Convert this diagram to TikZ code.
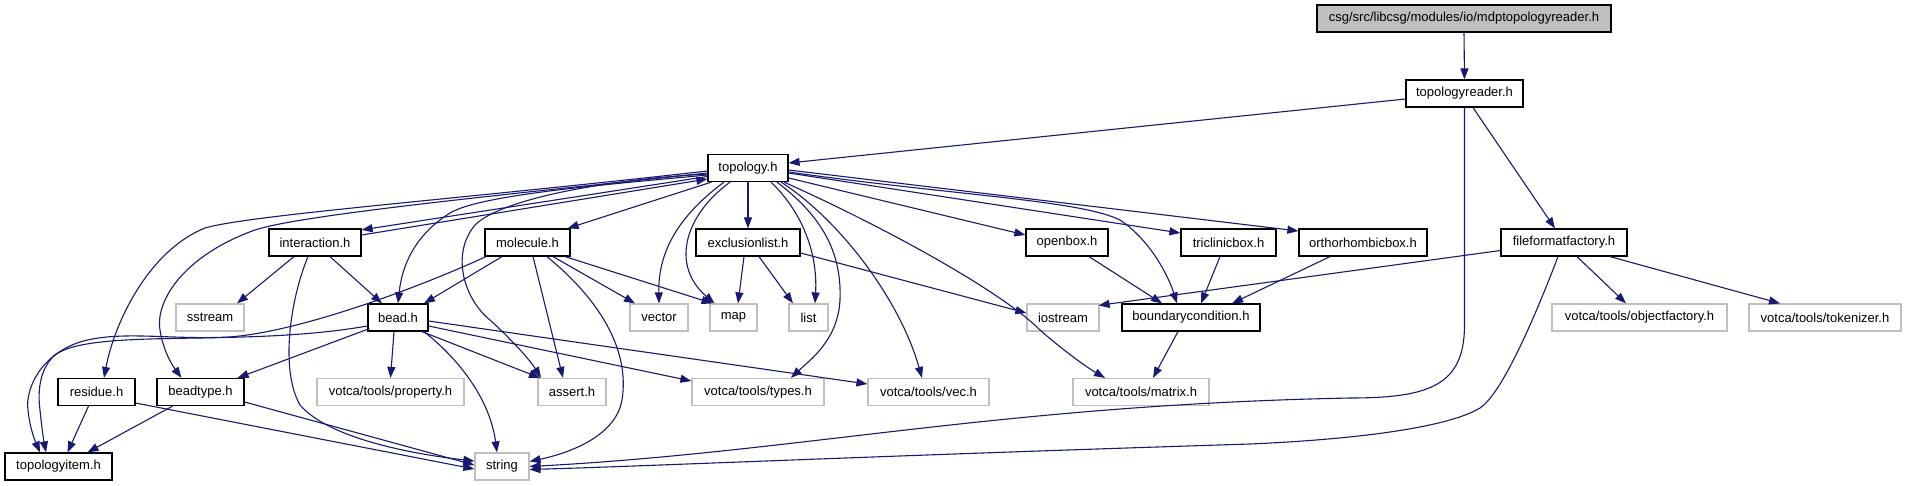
\documentclass[tikz,border=0pt]{standalone}
\usepackage{fontspec}
\setmainfont{Liberation Sans}
\usetikzlibrary{arrows.meta}
\definecolor{edgec}{HTML}{191970}
\definecolor{grayb}{HTML}{BFBFBF}
\begin{document}
\begin{tikzpicture}[x=1pt,y=-1pt,
  box/.style={draw=black, line width=1.2pt, fill=white, minimum height=27pt, inner sep=0pt, font=\fontsize{13}{15}\selectfont, text=black},
  sys/.style={box, draw=grayb},
  rootbox/.style={box, fill=grayb},
  edge/.style={draw=edgec, line width=1.1pt, -{Triangle[length=11pt,width=8pt]}},
]
\useasboundingbox[fill=white] (0,0) rectangle (1907,485);
% nodes
\node[rootbox, minimum width=294pt] (root) at (1464,18.5) {csg/src/libcsg/modules/io/mdptopologyreader.h};
\node[box, minimum width=117pt] (treader) at (1464.5,93.5) {topologyreader.h};
\node[box, minimum width=80pt] (topo) at (748,168) {topology.h};
\node[box, minimum width=92pt] (interaction) at (315,242.5) {interaction.h};
\node[box, minimum width=85pt] (molecule) at (527.5,242.5) {molecule.h};
\node[box, minimum width=104pt] (exclusion) at (748,242.5) {exclusionlist.h};
\node[box, minimum width=82pt] (openbox) at (1067,242.5) {openbox.h};
\node[box, minimum width=95pt] (triclinic) at (1228.5,242.5) {triclinicbox.h};
\node[box, minimum width=128pt] (ortho) at (1363,242.5) {orthorhombicbox.h};
\node[box, minimum width=126pt] (fff) at (1564,242.5) {fileformatfactory.h};
\node[sys, minimum width=68pt] (sstream) at (210,317.5) {sstream};
\node[box, minimum width=60pt] (bead) at (398,317.5) {bead.h};
\node[sys, minimum width=58pt] (vector) at (659,317.5) {vector};
\node[sys, minimum width=47pt] (map) at (733.5,317.5) {map};
\node[sys, minimum width=39pt] (list) at (808.5,317.5) {list};
\node[sys, minimum width=72pt] (iostream) at (1063,317.5) {iostream};
\node[box, minimum width=138pt] (boundary) at (1191,317.5) {boundarycondition.h};
\node[sys, minimum width=175pt] (objfac) at (1639.5,317.5) {votca/tools/objectfactory.h};
\node[sys, minimum width=152pt] (tokenizer) at (1825,317.5) {votca/tools/tokenizer.h};
\node[box, minimum width=77pt] (residue) at (96.5,392) {residue.h};
\node[box, minimum width=87pt] (beadtype) at (200.5,392) {beadtype.h};
\node[sys, minimum width=147pt] (property) at (390.5,392) {votca/tools/property.h};
\node[sys, minimum width=68pt] (assert) at (572,392) {assert.h};
\node[sys, minimum width=132pt] (types) at (758,392) {votca/tools/types.h};
\node[sys, minimum width=121pt] (vec) at (928.5,392) {votca/tools/vec.h};
\node[sys, minimum width=136pt] (matrix) at (1141,392) {votca/tools/matrix.h};
\node[box, minimum width=107pt] (titem) at (58.5,466.5) {topologyitem.h};
\node[sys, minimum width=54pt] (string) at (502,466.5) {string};
% edges from root / topologyreader
\draw[edge] (root.south) -- (treader.north);
\draw[edge] ([yshift=-5.5pt]treader.west) -- ([yshift=5pt]topo.east);
\draw[edge] (treader.south) -- (1464.5,325) .. controls (1464.5,385) and (1430,398) .. (1350,398) .. controls (1000,405) and (800,452) .. (string.east);
\draw[edge] ([xshift=8.5pt]treader.south) -- ([xshift=-9pt]fff.north);
% fileformatfactory
\draw[edge] ([yshift=-8pt]fff.west) -- ([xshift=-1pt,yshift=-2pt]iostream.north east);
\draw[edge] ([xshift=-6pt]fff.south) .. controls (1530,330) and (1500,395) .. (1480,408) .. controls (1440,432) and (1320,441) .. (1250,444) .. controls (900,455) and (650,466) .. ([yshift=-3pt]string.east);
\draw[edge] ([xshift=13pt]fff.south) -- ([xshift=-13.5pt]objfac.north);
\draw[edge] ([xshift=46pt]fff.south) -- ([xshift=-45pt]tokenizer.north);
% topology
\draw[edge] ([yshift=-8.5pt]topo.west) -- ([yshift=-1.5pt]interaction.north east);
\draw[edge] ([yshift=7.5pt]interaction.east) -- ([yshift=-11pt]topo.west);
\draw[edge] ([yshift=-3pt]topo.west) .. controls (450,200) and (250,215) .. (205,228) .. controls (150,250) and (115,320) .. ([xshift=7.5pt]residue.north);
\draw[edge] ([yshift=-5pt]topo.west) .. controls (500,195) and (300,215) .. (255,230) .. controls (185,255) and (155,300) .. (160,330) .. controls (163,350) and (172,365) .. ([xshift=-19pt]beadtype.north);
\draw[edge] ([yshift=-7pt]topo.west) .. controls (600,185) and (480,195) .. (450,213) .. controls (415,235) and (402,265) .. (bead.north);
\draw[edge] ([yshift=-6pt]topo.west) .. controls (600,180) and (500,200) .. (475,225) .. controls (450,255) and (465,300) .. (490,320) .. controls (510,338) and (530,360) .. ([xshift=-31pt]assert.north);
\draw[edge] ([xshift=4pt]topo.south west) -- ([xshift=-3pt]molecule.north east);
\draw[edge] ([xshift=-24pt]topo.south) .. controls (680,215) and (658,250) .. (vector.north);
\draw[edge] ([xshift=-18pt]topo.south) .. controls (685,215) and (670,265) .. ([xshift=-19pt]map.north);
\draw[edge] (topo.south) -- (exclusion.north);
\draw[edge] ([xshift=23pt]topo.south) .. controls (800,210) and (818,250) .. ([xshift=6.5pt]list.north);
\draw[edge] ([xshift=29pt]topo.south) .. controls (820,215) and (842,250) .. (840,300) .. controls (838,340) and (810,360) .. ([xshift=33pt]types.north);
\draw[edge] ([xshift=33pt]topo.south) .. controls (840,220) and (900,300) .. ([xshift=-6.5pt]vec.north);
\draw[edge] ([xshift=36pt]topo.south) .. controls (880,225) and (1000,290) .. (1040,330) .. controls (1065,352) and (1088,368) .. ([xshift=-36pt]matrix.north);
\draw[edge] ([yshift=-10pt]topo.east) -- ([yshift=7.5pt]openbox.west);
\draw[edge] ([yshift=-5pt]topo.east) -- ([yshift=9.5pt]triclinic.west);
\draw[edge] ([yshift=-2pt]topo.east) -- ([yshift=11.5pt]ortho.west);
\draw[edge] ([yshift=-4pt]topo.east) .. controls (950,195) and (1080,200) .. (1120,220) .. controls (1150,240) and (1168,275) .. ([xshift=-14pt]boundary.north);
% interaction
\draw[edge] ([xshift=-21pt]interaction.south) -- ([xshift=27pt]sstream.north);
\draw[edge] ([xshift=15pt]interaction.south) -- ([xshift=-16pt]bead.north);
\draw[edge] ([xshift=-7pt]interaction.south) .. controls (290,300) and (280,370) .. (300,405) .. controls (330,440) and (420,455) .. ([yshift=5.5pt]string.west);
% molecule
\draw[edge] ([xshift=-25.5pt]molecule.south) -- ([xshift=26pt]bead.north);
\draw[edge] ([xshift=-41.5pt]molecule.south) .. controls (420,287) and (300,332) .. (229,337) .. controls (170,340) and (120,330) .. (80,342) .. controls (40,355) and (25,390) .. (28,410) .. controls (30,430) and (36,443) .. ([xshift=-18.5pt]titem.north);
\draw[edge] ([xshift=5.5pt]molecule.south) -- ([xshift=-9pt]assert.north);
\draw[edge] ([xshift=19.5pt]molecule.south) .. controls (600,300) and (630,350) .. (622,400) .. controls (615,440) and (560,455) .. ([yshift=5pt]string.east);
\draw[edge] ([xshift=25.5pt]molecule.south) -- ([xshift=-24pt]vector.north);
\draw[edge] ([xshift=37.5pt]molecule.south) -- ([xshift=-21pt]map.north);
% bead
\draw[edge] ([yshift=-8.5pt]bead.west) .. controls (310,336) and (250,337) .. (200,338) .. controls (130,339) and (75,340) .. (55,355) .. controls (38,370) and (38,395) .. (40,410) .. controls (42,430) and (44,442) .. ([xshift=-12.5pt]titem.north);
\draw[edge] ([xshift=2pt,yshift=3pt]bead.south west) -- ([xshift=-7pt]beadtype.north east);
\draw[edge] ([xshift=-4pt]bead.south) -- (property.north);
\draw[edge] ([xshift=24pt]bead.south) -- ([xshift=-32pt]assert.north);
\draw[edge] ([xshift=26pt]bead.south) .. controls (460,360) and (490,400) .. ([xshift=-5pt]string.north);
\draw[edge] ([yshift=-8.5pt]bead.east) -- ([yshift=11pt]types.west);
\draw[edge] ([yshift=-3.5pt]bead.east) -- ([yshift=8pt]vec.west);
% exclusionlist
\draw[edge] ([xshift=-4pt]exclusion.south) -- ([xshift=4.5pt]map.north);
\draw[edge] ([xshift=11pt]exclusion.south) -- ([xshift=-15.5pt]list.north);
\draw[edge] ([yshift=-10.5pt]exclusion.east) -- ([yshift=4.5pt]iostream.west);
% boxes
\draw[edge] ([xshift=22pt]openbox.south) -- ([xshift=-29pt]boundary.north);
\draw[edge] ([xshift=-8.5pt]triclinic.south) -- ([xshift=10pt]boundary.north);
\draw[edge] ([xshift=-33pt]ortho.south) -- ([xshift=41pt]boundary.north);
\draw[edge] ([xshift=-13pt]boundary.south) -- ([xshift=12pt]matrix.north);
% residue, beadtype
\draw[edge] ([xshift=-8pt]residue.south) -- ([xshift=9pt]titem.north);
\draw[edge] ([yshift=-11pt]residue.east) -- ([yshift=-2.5pt]string.west);
\draw[edge] ([xshift=-28pt]beadtype.south) -- ([xshift=29pt]titem.north);
\draw[edge] ([yshift=-10pt]beadtype.east) -- ([yshift=1.5pt]string.west);
\end{tikzpicture}
\end{document}
